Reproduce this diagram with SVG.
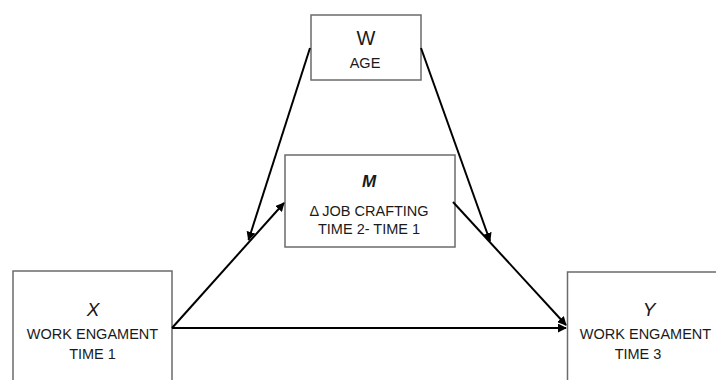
<svg xmlns="http://www.w3.org/2000/svg" width="716" height="380" viewBox="0 0 716 380">
<style>
.box{fill:#fff;stroke:#6b6b6b;stroke-width:1.5}
.t{font-family:"Liberation Sans",Arial,sans-serif;font-size:14.5px;fill:#1a1a1a;text-anchor:middle}
.big{font-size:20px}
.it{font-style:italic;font-size:19px}
.bi{font-style:italic;font-weight:bold;font-size:17px}
.c{stroke:#000;stroke-width:2;fill:none;marker-end:url(#ah)}
</style>
<defs>
<marker id="ah" viewBox="0 0 10 10" refX="9" refY="5" markerWidth="4.5" markerHeight="4.5" orient="auto" markerUnits="strokeWidth">
<path d="M0,0 L10,5 L0,10 z" fill="#000"/>
</marker>
</defs>
<g id="node-w">
<rect class="box" x="311" y="15" width="110" height="65"/>
<text class="t big" x="366" y="45">W</text>
<text class="t" x="365" y="68">AGE</text>
</g>
<g id="node-m">
<rect class="box" x="285" y="155" width="170" height="92"/>
<text class="t bi" x="369" y="187">M</text>
<text class="t" x="369" y="216">Δ JOB CRAFTING</text>
<text class="t" x="369" y="234">TIME 2- TIME 1</text>
</g>
<g id="node-x">
<rect class="box" x="13" y="271" width="159" height="120"/>
<text class="t it" x="93" y="316">X</text>
<text class="t" x="92.5" y="339">WORK ENGAMENT</text>
<text class="t" x="92.5" y="359">TIME 1</text>
</g>
<g id="node-y">
<rect class="box" x="567.5" y="272" width="160" height="120"/>
<text class="t it" x="649" y="316">Y</text>
<text class="t" x="645.5" y="339">WORK ENGAMENT</text>
<text class="t" x="638" y="359">TIME 3</text>
</g>
<g id="connectors">
<path class="c" d="M172,328 L284,203"/>
<path class="c" d="M453,202 L566,325"/>
<path class="c" d="M172,328 L566,328"/>
<path class="c" d="M310,48 L248.5,240"/>
<path class="c" d="M421,48 L490,241"/>
</g>
</svg>
